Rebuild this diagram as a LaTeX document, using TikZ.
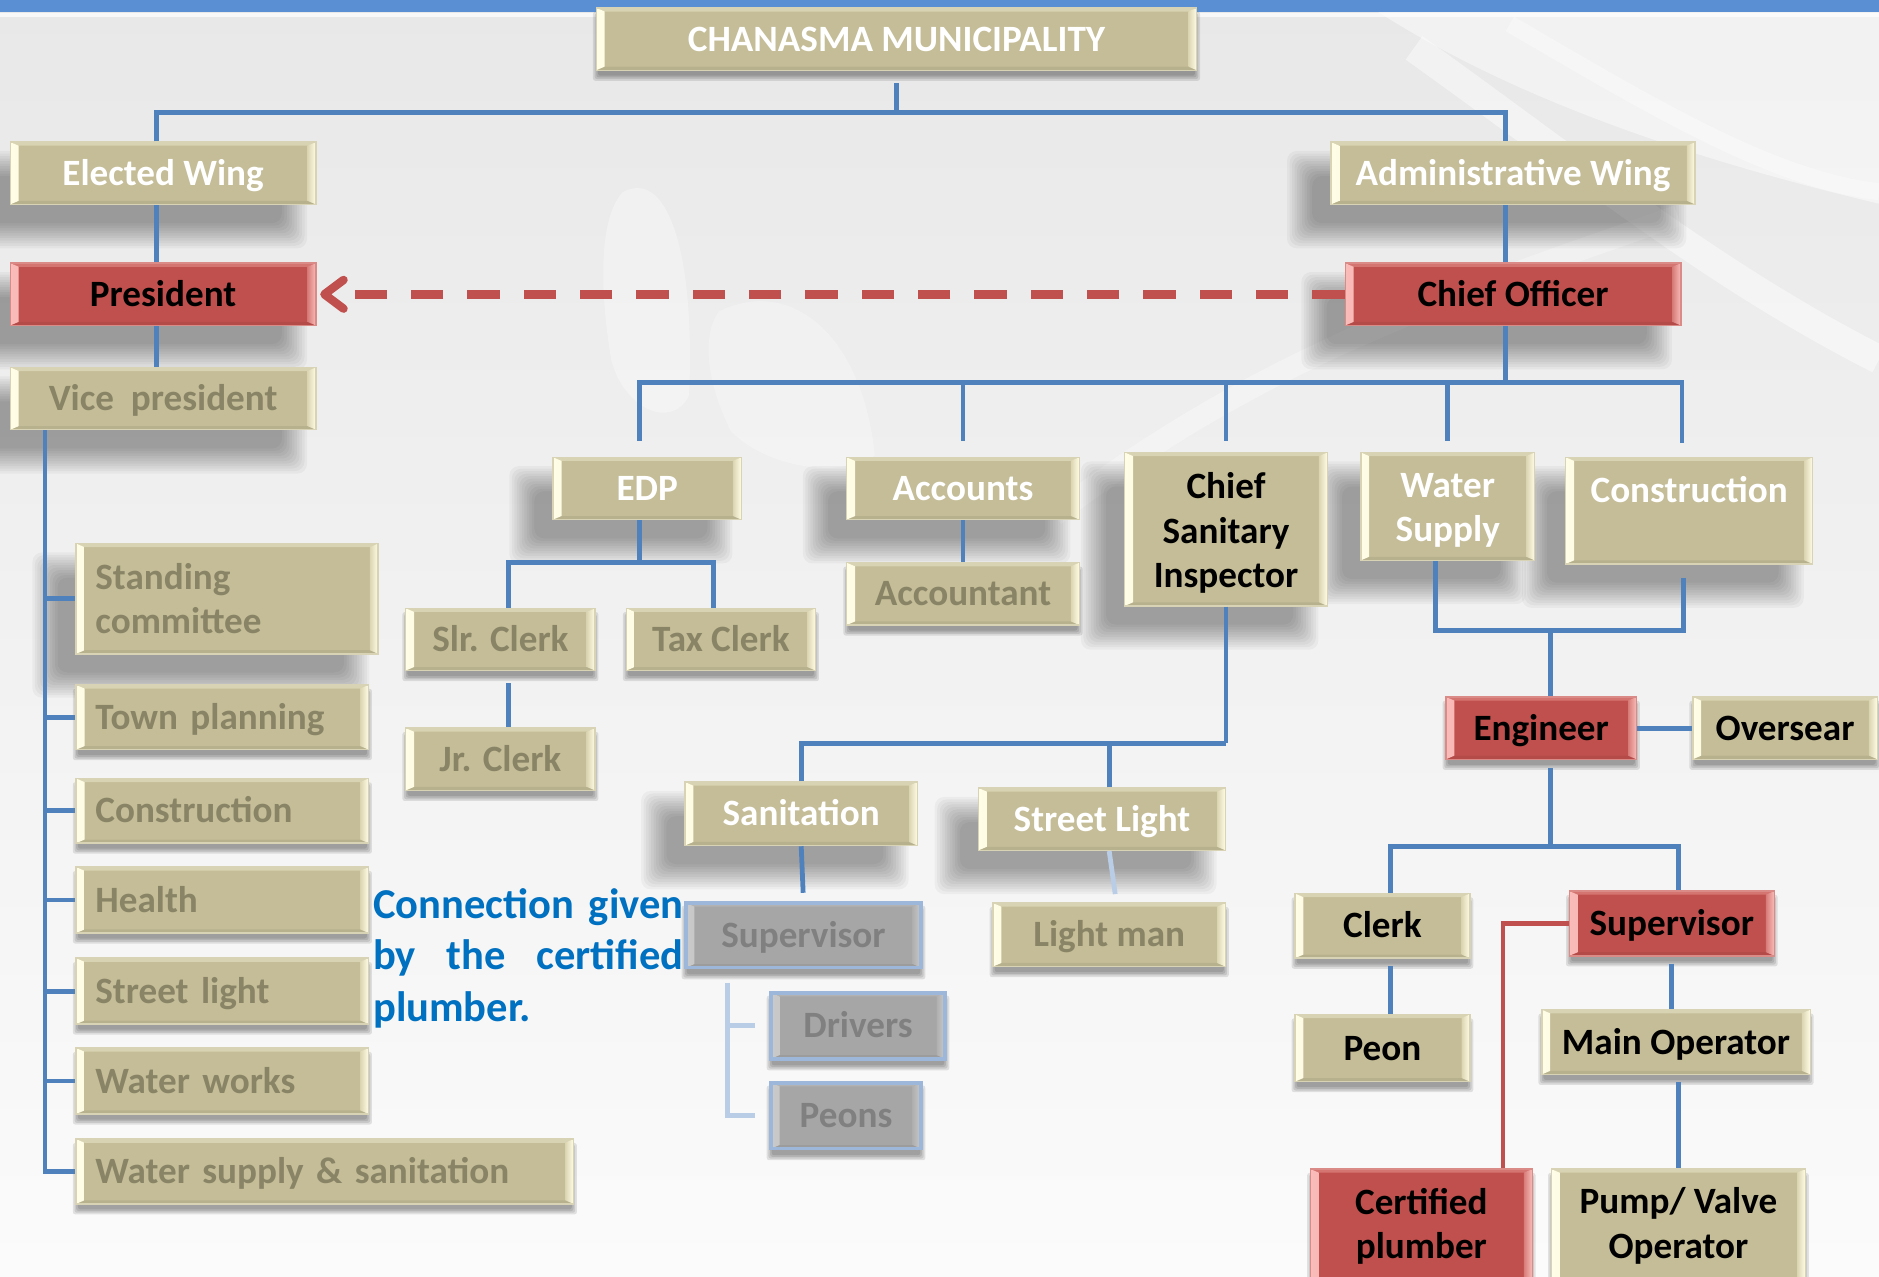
\documentclass[tikz,border=0pt]{standalone}
\usepackage{fontspec}
\setmainfont{Carlito}
\usetikzlibrary{arrows.meta,calc}

\definecolor{bgtop}{HTML}{E8E8E8}
\definecolor{bgbot}{HTML}{FBFBFB}
\definecolor{bandblue}{HTML}{5B8FD3}
\definecolor{tanfill}{HTML}{C4BD97}
\definecolor{tanedge}{HTML}{D9D3B6}
\definecolor{tanhi}{HTML}{FFFDE6}
\definecolor{tanmid}{HTML}{DCD5B2}
\definecolor{redfill}{HTML}{C0504D}
\definecolor{rededge}{HTML}{DA8A87}
\definecolor{redhi}{HTML}{FABCB9}
\definecolor{redmid}{HTML}{D77C78}
\definecolor{greyfill}{HTML}{A6A6A6}
\definecolor{greyedge}{HTML}{9DB7DB}
\definecolor{greyhi}{HTML}{C9C9C9}
\definecolor{greymid}{HTML}{B0B0B0}
\definecolor{dimtext}{HTML}{8A8467}
\definecolor{greytext}{HTML}{808080}
\definecolor{connblue}{HTML}{4F81BD}
\definecolor{faintblue}{HTML}{BACDE6}
\definecolor{notetext}{HTML}{0070C0}
\colorlet{bvhi}{tanhi}
\colorlet{bvmid}{tanmid}

\pgfdeclarelayer{back}
\pgfdeclarelayer{shade}
\pgfsetlayers{back,shade,main}

\tikzset{
  every node/.style={font=\bfseries\fontsize{15.5}{18.5}\selectfont},
  oneline/.style={text height=12.1pt, text depth=2.1pt},
  bevelpic/.style={path picture={
    \shade[left color=bvhi, right color=bvmid]
      (path picture bounding box.north west) -- ++(3.5pt,-1.5pt)
      -- ([shift={(3.5pt,1.5pt)}]path picture bounding box.south west)
      -- (path picture bounding box.south west) -- cycle;
    \shade[left color=bvmid, right color=bvhi]
      (path picture bounding box.north east) -- ++(-3.5pt,-1.5pt)
      -- ([shift={(-3.5pt,1.5pt)}]path picture bounding box.south east)
      -- (path picture bounding box.south east) -- cycle;
    \fill[bvhi, opacity=0.35]
      (path picture bounding box.north west) -- (path picture bounding box.north east)
      -- ++(-3.5pt,-1.5pt) -- ([shift={(3.5pt,-1.5pt)}]path picture bounding box.north west) -- cycle;
    \fill[black, opacity=0.06]
      (path picture bounding box.south west) -- (path picture bounding box.south east)
      -- ++(-3.5pt,1.5pt) -- ([shift={(3.5pt,1.5pt)}]path picture bounding box.south west) -- cycle;
  }},
  base/.style={rectangle, inner sep=0pt, align=center, anchor=north west, line width=0.6pt, oneline},
  multi/.style={text height=, text depth=},
  tan/.style={base, fill=tanfill, draw=tanedge,
    /utils/exec={\colorlet{bvhi}{tanhi}\colorlet{bvmid}{tanmid}}, bevelpic},
  redbox/.style={base, fill=redfill, draw=rededge, text=black,
    /utils/exec={\colorlet{bvhi}{redhi}\colorlet{bvmid}{redmid}}, bevelpic},
  greybox/.style={base, fill=greyfill, draw=greyedge, line width=1.5pt, text=greytext,
    /utils/exec={\colorlet{bvhi}{greyhi}\colorlet{bvmid}{greymid}}, bevelpic},
  lbox/.style={tan, align=left, inner xsep=8pt, text=dimtext},
  conn/.style={draw=connblue, line width=2pt},
  faint/.style={draw=faintblue, line width=2pt},
  redline/.style={draw=redfill, line width=2pt},
  dasharrow/.style={draw=redfill, line width=3.5pt, dash pattern=on 13.5pt off 10pt,
    -{Straight Barb[length=8pt, width=12pt, round]}},
}

\begin{document}
\begin{tikzpicture}[x=0.5pt, y=-0.5pt]
\clip (0,0) rectangle (1568,1065);

% backdrop
\begin{pgfonlayer}{back}
\shade[top color=bgtop, bottom color=bgbot] (0,0) rectangle (1568,1065);
\fill[white, opacity=0.45] (1150,10) .. controls (1260,80) and (1400,130) .. (1568,170) -- (1568,10) -- cycle;
\draw[white, opacity=0.45, line width=12pt] (1180,40) .. controls (1320,140) and (1430,230) .. (1568,300);
\draw[white, opacity=0.35, line width=7pt] (1260,20) .. controls (1380,90) and (1480,150) .. (1568,160);
\draw[white, opacity=0.3, line width=9pt] (880,430) .. controls (1050,300) and (1200,250) .. (1400,180);
\fill[white, opacity=0.3] (520,160) .. controls (560,140) and (580,220) .. (575,330)
  .. controls (560,360) and (520,340) .. (510,300) .. controls (500,240) and (500,180) .. (520,160);
\fill[white, opacity=0.25] (600,260) .. controls (660,230) and (720,280) .. (730,380)
  .. controls (700,400) and (640,390) .. (610,360) .. controls (590,320) and (585,280) .. (600,260);
\fill[bandblue] (0,0) rectangle (1568,10);
\fill[white, opacity=0.7] (0,11) rectangle (1568,14);
\end{pgfonlayer}

% top levels
\node[tan, minimum width=250.5pt, minimum height=26pt, text=white] (muni) at (497,6) {CHANASMA MUNICIPALITY};
\node[tan, minimum width=127.5pt, minimum height=26pt, text=white] (ew) at (8,118) {Elected Wing};
\node[tan, minimum width=152pt, minimum height=26pt, text=white] (aw) at (1110,118) {Administrative Wing};
\node[redbox, minimum width=127.5pt, minimum height=26pt] (pres) at (8,219) {President};
\node[redbox, minimum width=140pt, minimum height=26pt] (co) at (1122,219) {Chief Officer};
\node[tan, minimum width=127.5pt, minimum height=26pt, text=dimtext] (vp) at (8,306) {Vice\ \ president};

% departments under the chief officer
\node[tan, multi, minimum width=103pt, minimum height=44.5pt, text=white] (cons) at (1306,381) {Construction\\[-6.6pt]\strut};
\node[tan, multi, minimum width=72.5pt, minimum height=45pt, text=white] (ws) at (1135,377) {\rule{0pt}{13.4pt}Water\\Supply};
\node[tan, multi, minimum width=84.5pt, minimum height=64pt, text=black] (csi) at (938,377) {\rule{0pt}{14.2pt}Chief\\Sanitary\\Inspector};
\node[tan, minimum width=97pt, minimum height=26pt, text=white] (acc) at (706,381) {Accounts};
\node[tan, minimum width=78.5pt, minimum height=26pt, text=white] (edp) at (461,381) {EDP};
\node[tan, minimum width=97pt, minimum height=26pt, text=dimtext] (accnt) at (706,469) {Accountant};
\node[tan, minimum width=79pt, minimum height=26pt, text=dimtext] (slr) at (338,507) {Slr. Clerk};
\node[tan, minimum width=79pt, minimum height=26pt, text=dimtext] (tax) at (522,507) {Tax Clerk};
\node[tan, minimum width=79pt, minimum height=26pt, text=dimtext] (jr) at (338,607) {Jr. Clerk};

% committees of the elected wing
\node[lbox, multi, minimum height=46pt, text width=110pt] (sc) at (63,453) {Standing\\committee};
\node[lbox, minimum height=27pt, text width=106pt] (tp) at (63,571) {Town planning};
\node[lbox, minimum height=27pt, text width=106pt] (lcons) at (63,649) {Construction};
\node[lbox, minimum height=27.5pt, text width=106pt] (health) at (63,723) {Health};
\node[lbox, minimum height=27.5pt, text width=106pt] (sl) at (63,799) {Street light};
\node[lbox, minimum height=27.5pt, text width=106pt] (ww) at (63,874) {Water works};
\node[lbox, minimum height=27pt, text width=191.5pt] (wss) at (63,950) {Water supply \& sanitation};

% sanitation branch
\node[tan, minimum width=97pt, minimum height=26.5pt, text=white] (san) at (571,652) {Sanitation};
\node[tan, minimum width=103pt, minimum height=26pt, text=white] (stl) at (816,657) {Street Light};
\node[greybox, minimum width=98pt, minimum height=27pt] (gsup) at (571,752) {Supervisor};
\node[tan, minimum width=97pt, minimum height=26.5pt, text=dimtext] (lm) at (828,753) {Light man};
\node[greybox, minimum width=72.5pt, minimum height=27.5pt] (drv) at (642,827) {Drivers};
\node[greybox, minimum width=62.5pt, minimum height=27.5pt] (peons) at (642,902) {Peons};

% engineering branch
\node[redbox, minimum width=79.5pt, minimum height=26pt] (eng) at (1206,581) {Engineer};
\node[tan, minimum width=77pt, minimum height=26pt, text=black] (ovs) at (1412,581) {Oversear};
\node[tan, minimum width=73pt, minimum height=27pt, text=black] (clerk) at (1080,745) {Clerk};
\node[redbox, minimum width=85.5pt, minimum height=27pt] (rsup) at (1309,743) {Supervisor};
\node[tan, minimum width=73pt, minimum height=28pt, text=black] (peon) at (1080,846) {Peon};
\node[tan, minimum width=112pt, minimum height=27pt, text=black] (mop) at (1286,842) {Main Operator};
\node[redbox, multi, minimum width=92.5pt, minimum height=47.5pt] (cp) at (1093,975) {Certified\\plumber};
\node[tan, multi, minimum width=106pt, minimum height=47.5pt, text=black] (pvo) at (1294,975) {Pump/ Valve\\Operator};

% note
\node[anchor=north west, inner sep=0pt, align=left, text=notetext,
  font=\bfseries\fontsize{17.75}{21.5}\selectfont] (note) at (311,741)
  {\makebox[129.5pt][s]{Connection given}\\\makebox[129.5pt][s]{by the certified}\\plumber.};

% soft shadows under the boxes
\begin{pgfonlayer}{shade}
\foreach \n in {ew,aw,pres,co,vp,cons,ws,csi,acc,edp,sc,san,stl}{
  \foreach \k in {0,...,10}{
    \pgfmathsetmacro\xa{-11-(-3.5+1.05*\k)}
    \pgfmathsetmacro\ya{-11+(-3.5+1.05*\k)}
    \pgfmathsetmacro\xb{-11+(-3.5+1.05*\k)}
    \pgfmathsetmacro\yb{-11-(-3.5+1.05*\k)}
    \fill[black, opacity=0.037, rounded corners=4pt]
      ([shift={(\xa pt,\ya pt)}]\n.north west) rectangle ([shift={(\xb pt,\yb pt)}]\n.south east);
  }
}
\foreach \n in {muni,accnt,slr,tax,jr,tp,lcons,health,sl,ww,wss,lm,eng,ovs,clerk,rsup,peon,mop,cp,pvo,gsup,drv,peons}{
  \foreach \k in {0,...,3}{
    \pgfmathsetmacro\ea{-1+0.7*\k}
    \fill[black, opacity=0.1, rounded corners=1pt]
      ([shift={(-\ea pt,-3pt+\ea pt)}]\n.north west) rectangle ([shift={(\ea pt,-3pt-\ea pt)}]\n.south east);
  }
}
\end{pgfonlayer}

% connectors: top
\coordinate (topbus) at ([yshift=-17.5pt]muni.south);
\draw[conn, shorten <=5pt] (muni.south) -- (topbus);
\draw[conn] ([xshift=-2.75pt]ew.north) |- (topbus) -| ([xshift=-3pt]aw.north);
\draw[conn] ([xshift=-2.75pt]ew.south) -- ([xshift=-2.75pt]pres.north);
\draw[conn] ([xshift=-2.75pt]pres.south) -- ([xshift=-2.75pt]vp.north);
\draw[conn] ([xshift=-3pt]aw.south) -- ([xshift=-3pt]co.north);

% chief officer to departments
\coordinate (cobus) at ([xshift=-3pt,yshift=-23.5pt]co.south);
\draw[conn] ([xshift=-3pt]co.south) -- (cobus);
\draw[conn, shorten <=6.5pt, shorten >=5.5pt] ([xshift=-3.25pt]edp.north) |- (cobus) -| ([xshift=-3pt]cons.north);
\draw[conn, shorten <=6.5pt] (acc.north) -- (acc.north |- cobus);
\draw[conn, shorten <=4.5pt] (csi.north) -- (csi.north |- cobus);
\draw[conn, shorten <=4.5pt] (ws.north) -- (ws.north |- cobus);

% EDP and accounts
\coordinate (edpbus) at ([xshift=-3.25pt,yshift=-17.5pt]edp.south);
\draw[conn] ([xshift=-3.25pt]edp.south) -- (edpbus);
\draw[conn] ([xshift=3.5pt]slr.north) |- (edpbus) -| ([xshift=-3pt]tax.north);
\draw[conn, shorten <=5pt] ([xshift=3.5pt]slr.south) -- ([xshift=3.5pt]jr.north);
\draw[conn] (acc.south) -- (accnt.north);

% elected wing committees
\coordinate (vpl) at ([xshift=-49.25pt]vp.south);
\draw[conn] (vpl) |- (wss.west);
\foreach \n in {sc,tp,lcons,health,sl,ww}
  \draw[conn] (vpl |- \n.west) -- (\n.west);

% chief sanitary inspector branch
\coordinate (csibus) at ([yshift=-57pt]csi.south);
\draw[conn] (csi.south) -- (csibus);
\draw[conn] (san.north) |- (csibus);
\draw[conn] ([xshift=3pt]stl.north) -- ([xshift=3pt]stl.north |- csibus);
\draw[conn, shorten >=3.5pt] (san.south) -- (gsup.north);
\draw[faint, shorten >=3.5pt] ([xshift=3pt]stl.south) -- ([xshift=3pt]lm.north);
\coordinate (gb) at ([xshift=18pt,yshift=-5.5pt]gsup.south west);
\draw[faint] (gb) |- ([xshift=-6pt]peons.west);
\draw[faint] (gb |- drv.west) -- ([xshift=-6pt]drv.west);

% engineering branch
\coordinate (engbus) at ([xshift=3.75pt,yshift=27.5pt]eng.north);
\draw[conn] ([xshift=-5pt]ws.south) |- (engbus) -| ([xshift=-2.5pt,yshift=-5.5pt]cons.south);
\draw[conn] (engbus) -- ([xshift=3.75pt]eng.north);
\draw[conn] (eng.east) -- (ovs.west);
\coordinate (engbus2) at ([xshift=3.75pt,yshift=-36pt]eng.south);
\draw[conn, shorten <=3.5pt] ([xshift=3.75pt]eng.south) -- (engbus2);
\draw[conn] ([xshift=3.5pt]clerk.north) |- (engbus2) -| ([xshift=2.75pt]rsup.north);
\draw[conn, shorten <=3pt] ([xshift=3.5pt]clerk.south) -- ([xshift=3.5pt]peon.north);
\draw[conn, shorten <=3pt] (rsup.south) -- (rsup.south |- mop.north);
\draw[conn, shorten <=3pt] ([xshift=1pt]mop.south) -- ([xshift=1pt]mop.south |- pvo.north);
\draw[redline] (rsup.west) -| ([xshift=-12.5pt]cp.north east);

% reporting link
\draw[dasharrow] (co.west) -- ([xshift=1.5pt]pres.east);
\end{tikzpicture}
\end{document}
